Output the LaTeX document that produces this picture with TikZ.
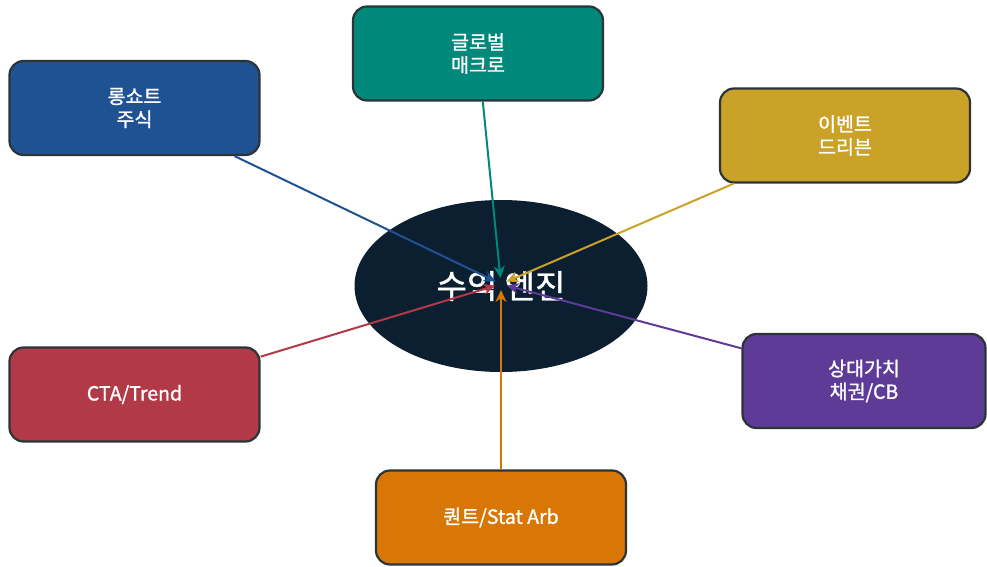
\documentclass[tikz,border=0pt]{standalone}
\usepackage{fontspec}
\setmainfont{Noto Sans CJK KR}
\newfontfamily\medfont{Noto Sans CJK KR}[FakeBold=1.2]
\usetikzlibrary{shapes.geometric,arrows.meta}
\definecolor{cblue}{HTML}{1F5292}
\definecolor{cteal}{HTML}{00897A}
\definecolor{cgold}{HTML}{C9A227}
\definecolor{cred}{HTML}{B23A48}
\definecolor{cpurple}{HTML}{5E3B97}
\definecolor{corange}{HTML}{D97706}
\definecolor{cnavy}{HTML}{0B1F30}
\definecolor{cborder}{HTML}{2B3538}
\tikzset{
  boxnode/.style={draw=cborder, line width=2.2pt, rounded corners=14pt,
    minimum width=250pt, minimum height=94pt, text=white, align=center,
    font=\fontsize{19.5}{23}\selectfont\medfont},
  link/.style={line width=2pt, -{Stealth[length=12pt,width=11pt]}, shorten >=6pt},
}
\begin{document}
\begin{tikzpicture}[x=1pt,y=-1pt]
\useasboundingbox (0,0) rectangle (987,567);
\node[ellipse, fill=cnavy, minimum width=293pt, minimum height=172pt, inner sep=0pt,
  text=white, font=\fontsize{33}{36}\selectfont\medfont] (hub) at (501,286) {수익 엔진};
\coordinate (c) at (501,284);
\node[boxnode, fill=cblue] (ls) at (134.5,108) {롱쇼트\\주식};
\node[boxnode, fill=cteal] (gm) at (478,53.5) {글로벌\\매크로};
\node[boxnode, fill=cgold] (ev) at (845,135.5) {이벤트\\드리븐};
\node[boxnode, fill=cred] (cta) at (134.5,394.5) {CTA/Trend};
\node[boxnode, fill=cpurple, minimum width=243pt] (rv) at (864,381) {상대가치\\채권/CB};
\node[boxnode, fill=corange] (qt) at (501,517.5) {퀀트/Stat Arb};
\draw[link, cblue] (ls) -- (c);
\draw[link, cgold] (ev) -- (c);
\draw[link, cred] (cta) -- (c);
\draw[link, cpurple] (rv) -- (c);
\draw[link, cteal] (gm) -- (c);
\draw[link, corange] (qt) -- (c);
\end{tikzpicture}
\end{document}
